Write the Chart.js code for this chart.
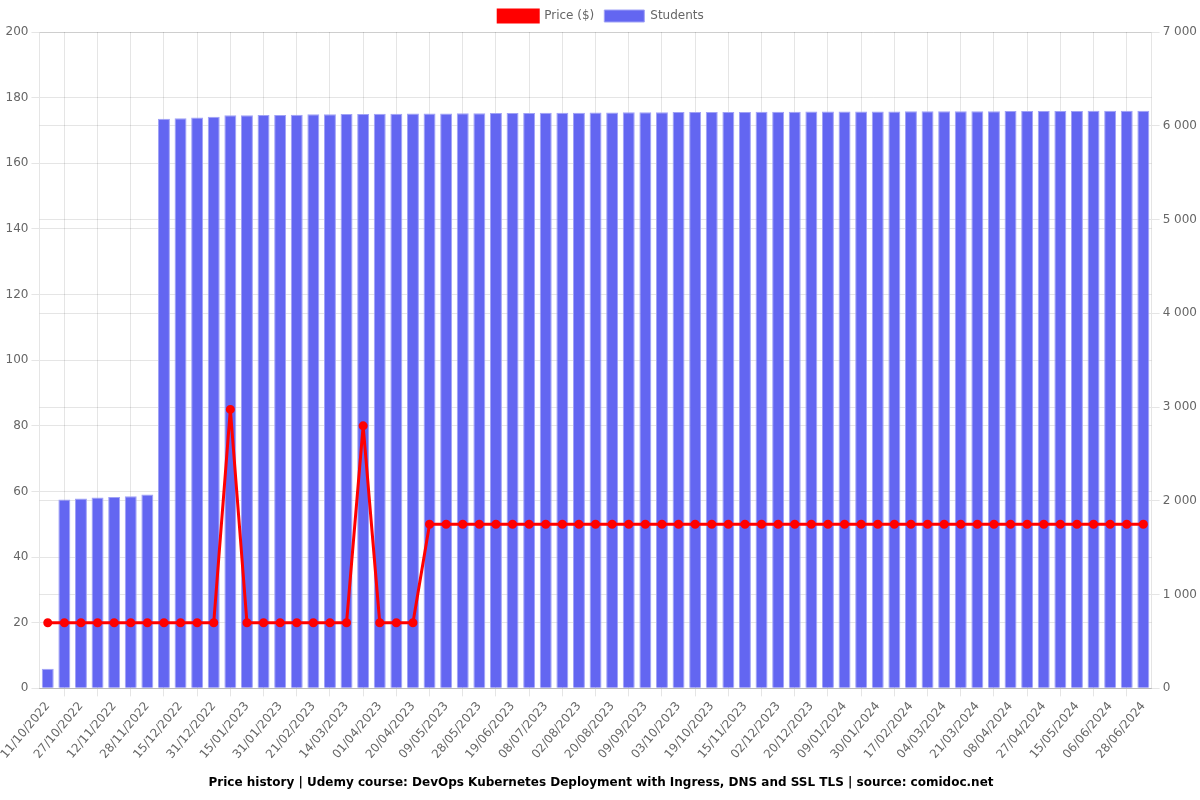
<!DOCTYPE html>
<html>
<head>
<meta charset="utf-8">
<script src="https://cdn.jsdelivr.net/npm/chart.js@4/dist/chart.umd.min.js"></script>
<style>
html,body{margin:0;padding:0;background:#fff;}
#wrap{width:1200px;height:800px;position:relative;}
</style>
</head>
<body>
<div id="wrap"><canvas id="c"></canvas></div>
<script>
const dates = [
"11/10/2022","19/10/2022","27/10/2022","04/11/2022","12/11/2022","20/11/2022","28/11/2022","06/12/2022","15/12/2022","23/12/2022",
"31/12/2022","07/01/2023","15/01/2023","23/01/2023","31/01/2023","10/02/2023","21/02/2023","03/03/2023","14/03/2023","23/03/2023",
"01/04/2023","10/04/2023","20/04/2023","30/04/2023","09/05/2023","18/05/2023","28/05/2023","08/06/2023","19/06/2023","28/06/2023",
"08/07/2023","20/07/2023","02/08/2023","11/08/2023","20/08/2023","30/08/2023","09/09/2023","21/09/2023","03/10/2023","11/10/2023",
"19/10/2023","02/11/2023","15/11/2023","23/11/2023","02/12/2023","11/12/2023","20/12/2023","30/12/2023","09/01/2024","19/01/2024",
"30/01/2024","08/02/2024","17/02/2024","25/02/2024","04/03/2024","12/03/2024","21/03/2024","30/03/2024","08/04/2024","17/04/2024",
"27/04/2024","06/05/2024","15/05/2024","26/05/2024","06/06/2024","17/06/2024","28/06/2024"
];
const price = [
20,20,20,20,20,20,20,20,20,20,
20,85,20,20,20,20,20,20,20,80,
20,20,20,50,50,50,50,50,50,50,
50,50,50,50,50,50,50,50,50,50,
50,50,50,50,50,50,50,50,50,50,
50,50,50,50,50,50,50,50,50,50,
50,50,50,50,50,50,50
];
const students = [
210,2015,2025,2035,2042,2050,2068,6075,6080,6088,
6096,6112,6113,6114,6116,6118,6122,6124,6125,6126,
6127,6128,6130,6131,6132,6133,6134,6135,6136,6137,
6138,6139,6140,6141,6142,6143,6144,6145,6146,6146,
6147,6148,6148,6149,6150,6150,6151,6151,6152,6152,
6153,6153,6154,6154,6155,6155,6156,6156,6157,6157,
6157,6158,6158,6159,6159,6160,6160
];
const titleText = "Price history | Udemy course: DevOps Kubernetes Deployment with Ingress, DNS and SSL TLS | source: comidoc.net";

Chart.defaults.font.family = "'DejaVu Sans', sans-serif";
Chart.defaults.font.size = 12;
Chart.defaults.color = '#666';

new Chart(document.getElementById('c'), {
  type: 'bar',
  data: {
    labels: dates,
    datasets: [
      {
        type: 'line',
        label: 'Price ($)',
        data: price,
        yAxisID: 'y',
        borderColor: 'rgb(255,0,0)',
        backgroundColor: 'rgb(255,0,0)',
        borderWidth: 3,
        pointRadius: 3,
        pointBackgroundColor: 'rgb(255,0,0)',
        tension: 0
      },
      {
        type: 'bar',
        label: 'Students',
        data: students,
        yAxisID: 'y1',
        backgroundColor: 'rgb(99,102,241)',
        borderColor: 'rgba(160,162,246,1)',
        borderWidth: 1
      }
    ]
  },
  options: {
    responsive: true,
    maintainAspectRatio: false,
    animation: false,
    layout: { padding: { left: 2 } },
    plugins: {
      legend: { position: 'top' },
      title: {
        display: true,
        text: titleText,
        position: 'bottom',
        color: '#000',
        padding: { top: 11, bottom: 10 },
        font: { size: 12, weight: 'bold' }
      },
      tooltip: { enabled: false }
    },
    scales: {
      x: {},
      y: {
        position: 'left',
        min: 0,
        max: 200,
        ticks: { stepSize: 20 }
      },
      y1: {
        position: 'right',
        min: 0,
        max: 7000,
        ticks: {
          stepSize: 1000,
          callback: v => String(v).replace(/\B(?=(\d{3})+(?!\d))/g, ' ')
        }
      }
    }
  }
});
</script>
</body>
</html>
